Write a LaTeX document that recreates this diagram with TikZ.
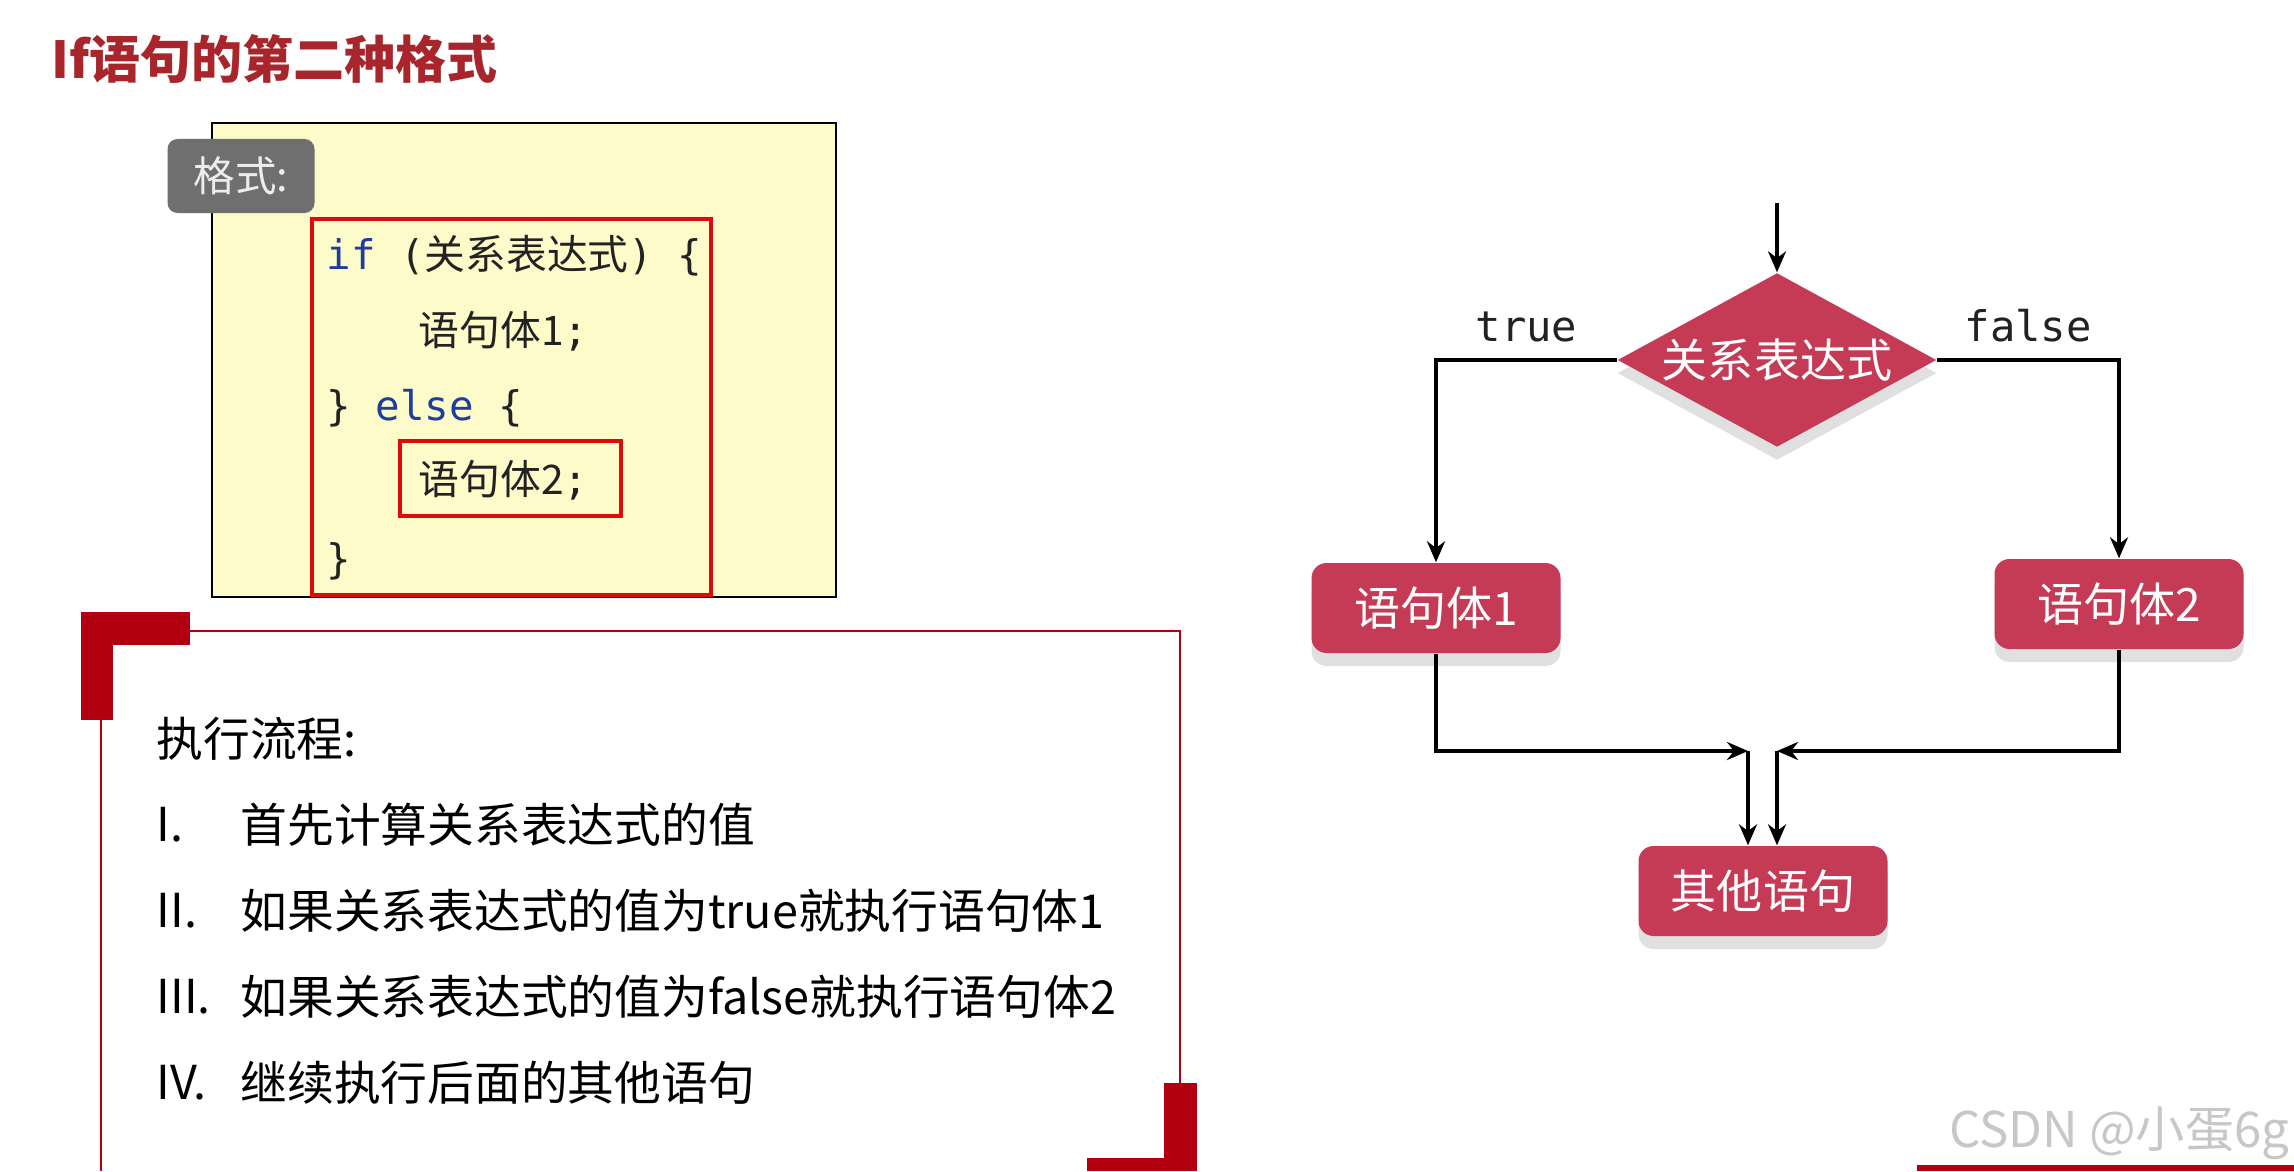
\documentclass[tikz,border=0pt]{standalone}
\usepackage{fontspec}
\setmainfont{Noto Sans CJK SC}
\newfontfamily\cjk{Noto Sans CJK SC}
\newfontfamily\codefont{DejaVu Sans Mono}
\usetikzlibrary{arrows.meta,positioning,shapes.geometric,shadows}
\definecolor{fcTitle}{HTML}{A8262B}
\definecolor{fcFrame}{HTML}{B20010}
\definecolor{fcMarkRed}{HTML}{E00A0A}
\definecolor{fcNode}{HTML}{C53A55}
\definecolor{fcYellow}{HTML}{FEFBCB}
\definecolor{fcTag}{HTML}{6F6F6F}
\definecolor{fcBlue}{HTML}{1F3D9C}
\definecolor{fcInk}{HTML}{222222}
\newcommand{\kw}[1]{\textcolor{fcBlue}{#1}}
\tikzset{
  fcArrow/.style={-{Stealth[length=2.1mm,width=1.8mm]},line width=1.25pt,draw=black},
  fcShadow/.style={drop shadow={shadow xshift=0mm,shadow yshift=-1.3mm,
    fill=black!12,opacity=1}},
  fcBox/.style={rectangle,rounded corners=1.5mm,fill=fcNode,text=white,
    minimum width=24.9mm,minimum height=9mm,inner sep=0pt,fcShadow,
    font=\cjk\fontsize{13.1}{15}\selectfont},
  fcDecision/.style={fcBox,diamond,rounded corners=0pt,aspect=1.83,
    minimum width=31.9mm,minimum height=17.4mm},
  fcEdge/.style={font=\codefont\fontsize{12}{14}\selectfont,text=fcInk},
  fcCode/.style={anchor=west,inner sep=0pt,text=fcInk,
    font=\codefont\fontsize{11.6}{14}\selectfont},
  fcTagBox/.style={rectangle,rounded corners=1mm,fill=fcTag,text=white!93!black,
    minimum width=14.7mm,minimum height=7.4mm,inner sep=0pt,
    font=\cjk\fontsize{11.8}{14}\selectfont},
  fcList/.style={anchor=west,inner sep=0pt,text=black,
    font=\cjk\fontsize{13.3}{16}\selectfont},
  fcRedBox/.style={draw=fcMarkRed,line width=1.3pt},
  fcThin/.style={draw=fcFrame,line width=0.6pt}
}
\begin{document}
\begin{tikzpicture}[x=0.1mm,y=-0.1mm]
\useasboundingbox[fill=white] (0,0) rectangle (2294,1171);
\node[anchor=west,inner sep=0pt,text=fcTitle,font=\cjk\bfseries\fontsize{14.5}{17}\selectfont]
  (title) at (51,59) {If语句的第二种格式};
% code panel
\draw[draw=black,fill=fcYellow,line width=0.6pt] (212,123) rectangle (836,597);
\node[fcTagBox] (tag) at (241,176) {格式:};
\draw[fcRedBox] (312,219) rectangle (711,595);
\draw[fcRedBox] (400,441) rectangle (621,516);
\node[fcCode] (c1) at (326,256) {\kw{if} ({\cjk 关系表达式}) \{};
\node[fcCode] (c2) at (418,331) {{\cjk 语句体1};};
\node[fcCode] (c3) at (326,408) {\} \kw{else} \{};
\node[fcCode] (c4) at (418,480) {{\cjk 语句体2};};
\node[fcCode] (c5) at (326,561) {\}};
% process panel
\draw[fcThin] (190,631) -- (1180,631) -- (1180,1083);
\draw[fcThin] (101,720) -- (101,1171);
\fill[fcFrame] (81,612) rectangle (190,645);
\fill[fcFrame] (81,612) rectangle (113,720);
\fill[fcFrame] (1164,1083) rectangle (1197,1171);
\fill[fcFrame] (1087,1158) rectangle (1197,1171);
\node[fcList] (steps) at (156,739) {执行流程:};
\foreach \num/\txt [count=\i] in {I./首先计算关系表达式的值,
    II./如果关系表达式的值为true就执行语句体1,
    III./如果关系表达式的值为false就执行语句体2,
    IV./继续执行后面的其他语句}{
  \node[fcList] (n\i) at (156,739+86*\i) {\num};
  \node[fcList] (s\i) at (240,739+86*\i) {\txt};
}
% flowchart
\coordinate (entry) at (1777,203);
\node[fcDecision] (cond) at (1777,360) {关系表达式};
\node[fcBox] (body1) at (1436,608) {语句体1};
\node[fcBox] (body2) at (2119,604) {语句体2};
\node[fcBox] (other) at (1763,891) {其他语句};
\coordinate (joinL) at (1748,751);
\coordinate (joinR) at (1777,751);
\draw[fcArrow] (entry) -- (cond.north);
\draw[fcArrow] (cond.west) -| node[fcEdge,pos=0.25,above=0.4mm] {true} (body1.north);
\draw[fcArrow] (cond.east) -| node[fcEdge,pos=0.25,above=0.4mm] {false} (body2.north);
\draw[fcArrow] (body1.south) |- (joinL);
\draw[fcArrow] (body2.south) |- (joinR);
\draw[fcArrow] (joinL) -- (joinL |- other.north);
\draw[fcArrow] (joinR) -- (joinR |- other.north);
% watermark
\fill[fcFrame] (1917,1165) rectangle (2294,1171);
\node[anchor=east,inner sep=0pt,text=black!22,font=\cjk\fontsize{14}{16}\selectfont]
  (mark) at (2290,1133) {CSDN @小蛋6g};
\end{tikzpicture}
\end{document}
